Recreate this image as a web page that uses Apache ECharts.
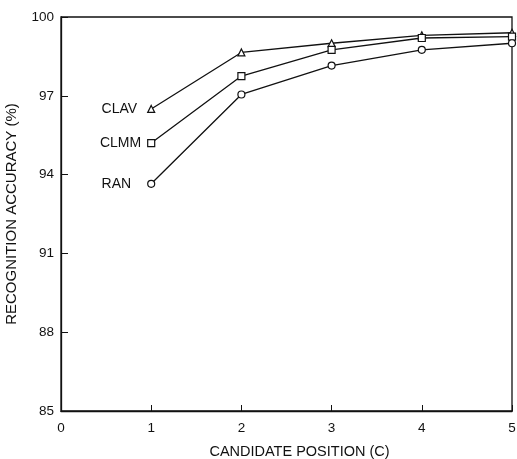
<!DOCTYPE html>
<html><head><meta charset="utf-8">
<script src="https://cdn.jsdelivr.net/npm/echarts@6/dist/echarts.min.js"></script>
<style>html,body{margin:0;padding:0;background:#fff}#c{width:517px;height:459px}</style>
</head><body><div id="c"></div>
<script>
const positions = [1, 2, 3, 4, 5];
const clav = [96.5, 98.65, 99.0, 99.3, 99.4];
const clmm = [95.2, 97.75, 98.75, 99.2, 99.25];
const ran = [93.65, 97.05, 98.15, 98.75, 99.0];
const xTicks = [0, 1, 2, 3, 4, 5];
const yTicks = [85, 88, 91, 94, 97, 100];

const font = 'Liberation Sans';
function mk(name, vals, sym, dist) {
  return {
    name: name, type: 'line', data: positions.map((p, i) => [p, vals[i]]),
    symbol: sym, symbolSize: 7, showAllSymbol: true,
    itemStyle: { color: '#fff', borderColor: '#111', borderWidth: 1.2 },
    lineStyle: { color: '#111', width: 1.3 },
    label: { show: true, position: 'left', distance: dist, color: '#111', fontFamily: font, fontSize: 14,
      formatter: p => p.dataIndex === 0 ? name : '' },
    emphasis: { disabled: true }, animation: false
  };
}
const chart = echarts.init(document.getElementById('c'));
chart.setOption({
  animation: false,
  grid: { left: 61, right: 5, top: 17, bottom: 48, outerBoundsMode: 'none', show: true, borderColor: '#111', borderWidth: 1.3 },
  xAxis: {
    type: 'value', min: 0, max: 5, interval: 1,
    name: 'CANDIDATE POSITION (C)', nameLocation: 'middle', nameGap: 33,
    nameTextStyle: { fontFamily: font, fontSize: 14.5, color: '#111', padding: [0, 0, 0, 26] },
    axisLine: { show: true, lineStyle: { color: '#111', width: 1.3 } },
    axisTick: { show: true, inside: true, length: 6, lineStyle: { color: '#111' } },
    axisLabel: { fontFamily: font, fontSize: 13.5, color: '#111', margin: 10, formatter: v => xTicks.includes(v) ? String(v) : '' },
    splitLine: { show: false }
  },
  yAxis: {
    type: 'value', min: 85, max: 100, interval: 3,
    name: 'RECOGNITION ACCURACY (%)', nameLocation: 'middle', nameGap: 42,
    nameTextStyle: { fontFamily: font, fontSize: 15, color: '#111' },
    axisLine: { show: true, lineStyle: { color: '#111', width: 1.3 } },
    axisTick: { show: true, inside: true, length: 7, lineStyle: { color: '#111' } },
    axisLabel: { fontFamily: font, fontSize: 13.5, color: '#111', margin: 7, formatter: v => yTicks.includes(v) ? String(v) : '' },
    splitLine: { show: false }
  },
  series: [mk('CLAV', clav, 'triangle', 10), mk('CLMM', clmm, 'rect', 6), mk('RAN', ran, 'circle', 16)]
});
</script></body></html>
